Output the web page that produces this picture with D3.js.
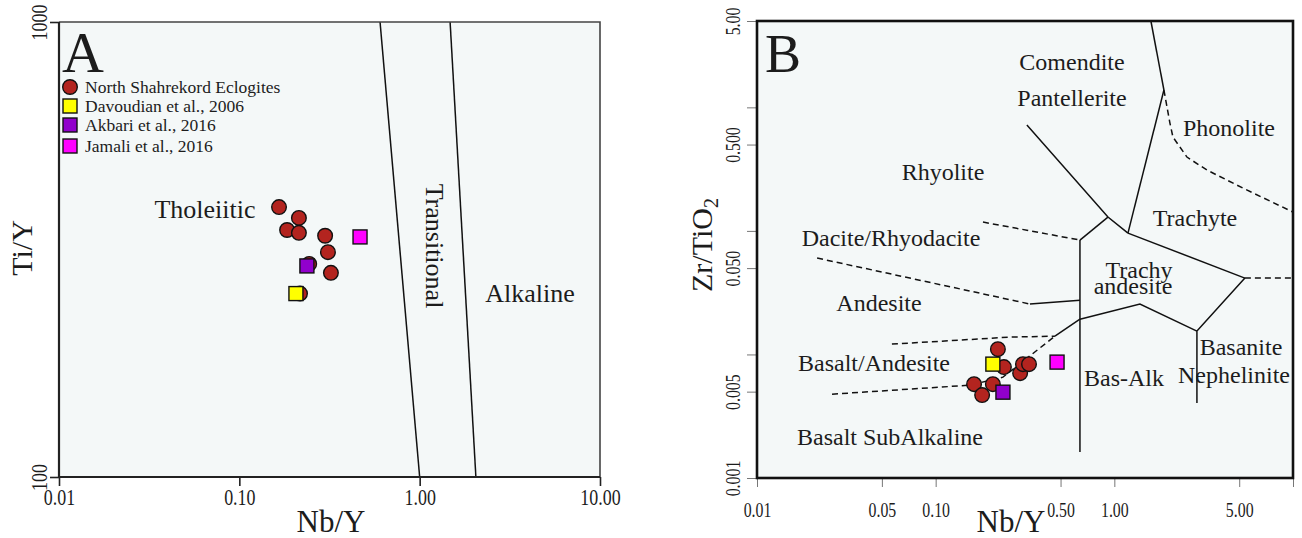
<!DOCTYPE html>
<html>
<head>
<meta charset="utf-8">
<script src="https://cdn.jsdelivr.net/npm/d3@7"></script>
<style>
body { margin: 0; background: #fff; }
text { font-family: 'Liberation Serif', 'Times New Roman', serif; fill: #1c1c1c; }
</style>
</head>
<body>
<div id="chart"></div>
<script>
// ---- panel A data : Nb/Y vs Ti/Y ----
var aCircleNbY = [0.166, 0.214, 0.184, 0.214, 0.299, 0.310, 0.244, 0.322, 0.217];
var aCircleTiY = [392, 371, 349, 344, 339, 312, 294, 281, 253];
var aSquareNbY = [0.206, 0.237, 0.467];
var aSquareTiY = [253, 291, 337];
var aBoundaryLines = [
    [[0.603, 1000], [1.00, 100]],
    [[1.475, 1000], [2.05, 100]]
];
var aXTicks = [0.01, 0.1, 1, 10];
var aXTickLabels = ['0.01', '0.10', '1.00', '10.00'];
var aYTicks = [100, 1000];
var aYTickLabels = ['100', '1000'];

// ---- panel B data : Nb/Y vs Zr/TiO2 ----
var bCircleNbY = [0.223, 0.241, 0.297, 0.308, 0.333, 0.164, 0.182, 0.209];
var bCircleZrTi = [0.01104, 0.00790, 0.00706, 0.00835, 0.00835, 0.00575, 0.00469, 0.00575];
var bSquareNbY = [0.209, 0.238, 0.478];
var bSquareZrTi = [0.00835, 0.00495, 0.00867];
var bSolidLines = [
    [[1.602, 5.0], [1.895, 1.381]],
    [[1.895, 1.381], [1.192, 0.0960]],
    [[0.324, 0.719], [0.921, 0.1294], [1.192, 0.0960]],
    [[0.921, 0.1294], [0.642, 0.0843]],
    [[0.642, 0.0843], [0.642, 0.00162]],
    [[1.192, 0.0960], [5.38, 0.0415]],
    [[5.38, 0.0415], [2.899, 0.01545], [2.899, 0.00404]],
    [[0.337, 0.0256], [0.642, 0.0275]],
    [[0.642, 0.0193], [1.391, 0.0256], [2.899, 0.01545]],
    [[0.642, 0.0193], [0.465, 0.01407]]
];
var bDashedLines = [
    [[1.895, 1.381], [2.047, 0.746], [2.128, 0.575], [2.549, 0.396], [3.298, 0.311], [5.245, 0.222], [10, 0.142]],
    [[5.38, 0.0415], [10, 0.0415]],
    [[0.184, 0.1179], [0.642, 0.0843]],
    [[0.0217, 0.0603], [0.337, 0.0256]],
    [[0.0569, 0.01213], [0.260, 0.01381], [0.465, 0.01407]],
    [[0.0263, 0.00477], [0.1555, 0.00564], [0.238, 0.00655], [0.465, 0.01407]]
];
var bXTicks = [0.01, 0.05, 0.1, 0.5, 1, 5, 10];
var bXTickLabels = ['0.01', '0.05', '0.10', '0.50', '1.00', '5.00', ''];
var bYTicks = [0.001, 0.005, 0.01, 0.05, 0.1, 0.5, 1, 5];
var bYTickLabels = ['0.001', '0.005', '', '0.050', '', '0.500', '', '5.00'];

// legend
var legendLabels = ['North Shahrekord Eclogites', 'Davoudian et al., 2006', 'Akbari et al., 2016', 'Jamali et al., 2016'];
var circleColor = '#b3241f';
var squareColors = ['#ffff00', '#9100cc', '#ff00ff'];

var svg = d3.select('#chart')
    .append('svg')
    .attr('width', 1302)
    .attr('height', 538);

// scales
var xA = d3.scaleLog().domain([0.01, 10]).range([59, 600]);
var yA = d3.scaleLog().domain([100, 1000]).range([477, 22]);
var xB = d3.scaleLog().domain([0.01, 10]).range([757, 1293]);
var yB = d3.scaleLog().domain([0.001, 5]).range([478, 21]);

var plotFill = '#f4f8f8';

// plot backgrounds
svg.append('rect').attr('x', 59).attr('y', 22).attr('width', 541).attr('height', 455).attr('fill', plotFill);
svg.append('rect').attr('x', 757).attr('y', 21).attr('width', 536).attr('height', 457).attr('fill', plotFill);

// helper to style axes
function styleBottomAxis(g, labels, ty, sx, fs) {
    g.select('.domain').remove();
    g.selectAll('.tick line').attr('stroke', '#222').attr('stroke-width', 1.6);
    g.selectAll('.tick text')
        .text(function(d, i) { return labels[i]; })
        .attr('y', ty)
        .attr('dy', '0')
        .attr('transform', 'scale(' + sx + ',1)')
        .style('font-size', fs + 'px')
        .style('font-family', "'Liberation Serif', serif")
        .attr('fill', '#222');
}
function styleLeftAxis(g, labels, tx, sx, fs) {
    g.select('.domain').remove();
    g.selectAll('.tick line').attr('stroke', '#222').attr('stroke-width', 1.6);
    g.selectAll('.tick text')
        .text(function(d, i) { return labels[i]; })
        .attr('x', 0)
        .attr('y', 0)
        .attr('dy', '0')
        .attr('text-anchor', 'middle')
        .attr('transform', 'translate(' + tx + ',0) rotate(-90) scale(' + sx + ',1)')
        .style('font-size', fs + 'px')
        .style('font-family', "'Liberation Serif', serif")
        .attr('fill', '#222');
}

// ---------- panel A ----------
var axA = svg.append('g').attr('transform', 'translate(0,477)')
    .call(d3.axisBottom(xA).tickValues(aXTicks).tickSize(9).tickSizeOuter(0));
styleBottomAxis(axA, aXTickLabels, 28, 0.78, 23);
var ayA = svg.append('g').attr('transform', 'translate(59,0)')
    .call(d3.axisLeft(yA).tickValues(aYTicks).tickSize(9).tickSizeOuter(0));
styleLeftAxis(ayA, aYTickLabels, -12, 0.78, 23);

var lineA = d3.line().x(function(d) { return xA(d[0]); }).y(function(d) { return yA(d[1]); });
svg.append('g').selectAll('path')
    .data(aBoundaryLines)
    .enter()
    .append('path')
    .attr('d', lineA)
    .attr('fill', 'none')
    .attr('stroke', '#111')
    .attr('stroke-width', 1.5);

// frame A
svg.append('path').attr('d', 'M59,22H600V477').attr('fill', 'none').attr('stroke', '#444').attr('stroke-width', 1.6);
svg.append('path').attr('d', 'M59,22V477H600').attr('fill', 'none').attr('stroke', '#222').attr('stroke-width', 2.2);

// points A
svg.append('g').selectAll('circle')
    .data(aCircleNbY)
    .enter()
    .append('circle')
    .attr('cx', function(d) { return xA(d); })
    .attr('cy', function(d, i) { return yA(aCircleTiY[i]); })
    .attr('r', 7.3)
    .attr('fill', circleColor)
    .attr('stroke', '#111')
    .attr('stroke-width', 1.4);
svg.append('g').selectAll('rect')
    .data(aSquareNbY)
    .enter()
    .append('rect')
    .attr('x', function(d) { return xA(d) - 7; })
    .attr('y', function(d, i) { return yA(aSquareTiY[i]) - 7; })
    .attr('width', 14)
    .attr('height', 14)
    .attr('fill', function(d, i) { return squareColors[i]; })
    .attr('stroke', '#111')
    .attr('stroke-width', 1.4);

// labels A
svg.append('text').attr('x', 62).attr('y', 72).style('font-size', '58px').text('A');
svg.append('text').attr('x', 205).attr('y', 218).attr('text-anchor', 'middle').style('font-size', '26px').text('Tholeiitic');
svg.append('text').attr('transform', 'translate(426,246) rotate(90)').attr('text-anchor', 'middle').style('font-size', '26px').text('Transitional');
svg.append('text').attr('x', 530).attr('y', 302).attr('text-anchor', 'middle').style('font-size', '26px').text('Alkaline');
svg.append('text').attr('transform', 'translate(32,248) rotate(-90)').attr('text-anchor', 'middle').style('font-size', '30px').text('Ti/Y');
svg.append('text').attr('x', 331).attr('y', 532).attr('text-anchor', 'middle').style('font-size', '31px').text('Nb/Y');

// legend
var legend = svg.append('g');
var legendY = [87, 106, 125, 146];
legendLabels.forEach(function(lab, i) {
    if (i === 0) {
        legend.append('circle').attr('cx', 70).attr('cy', legendY[i]).attr('r', 7.3)
            .attr('fill', circleColor).attr('stroke', '#111').attr('stroke-width', 1.4);
    } else {
        legend.append('rect').attr('x', 63).attr('y', legendY[i] - 7).attr('width', 14).attr('height', 14)
            .attr('fill', squareColors[i - 1]).attr('stroke', '#111').attr('stroke-width', 1.4);
    }
    legend.append('text').attr('x', 85).attr('y', legendY[i] + 6).style('font-size', '17.5px').text(lab);
});

// ---------- panel B ----------
var axB = svg.append('g').attr('transform', 'translate(0,478)')
    .call(d3.axisBottom(xB).tickValues(bXTicks).tickSize(9).tickSizeOuter(0));
styleBottomAxis(axB, bXTickLabels, 39, 0.72, 22);
axB.selectAll('.tick line').attr('stroke', '#777').attr('stroke-width', 1);
var ayB = svg.append('g').attr('transform', 'translate(757,0)')
    .call(d3.axisLeft(yB).tickValues(bYTicks).tickSize(10).tickSizeOuter(0));
styleLeftAxis(ayB, bYTickLabels, -17, 0.72, 22);
ayB.selectAll('.tick line').attr('stroke', '#777').attr('stroke-width', 1);

var lineB = d3.line().x(function(d) { return xB(d[0]); }).y(function(d) { return yB(d[1]); });
svg.append('g').selectAll('path')
    .data(bSolidLines)
    .enter()
    .append('path')
    .attr('d', lineB)
    .attr('fill', 'none')
    .attr('stroke', '#111')
    .attr('stroke-width', 1.5);
svg.append('g').selectAll('path')
    .data(bDashedLines)
    .enter()
    .append('path')
    .attr('d', lineB)
    .attr('fill', 'none')
    .attr('stroke', '#111')
    .attr('stroke-width', 1.5)
    .attr('stroke-dasharray', '6,4');

// frame B
svg.append('rect').attr('x', 757).attr('y', 21).attr('width', 536).attr('height', 457)
    .attr('fill', 'none').attr('stroke', '#111').attr('stroke-width', 2.6);

// field labels B
var fieldLabels = [
    ['Comendite', 1072, 70], ['Pantellerite', 1072, 106], ['Phonolite', 1229, 136],
    ['Trachyte', 1195, 226], ['Rhyolite', 943, 180], ['Dacite/Rhyodacite', 891, 246],
    ['Andesite', 879, 311], ['Basalt/Andesite', 874, 371], ['Basalt SubAlkaline', 890, 445],
    ['Trachy', 1139, 278], ['andesite', 1133, 294], ['Bas-Alk', 1124, 386],
    ['Basanite', 1241, 355], ['Nephelinite', 1234, 383]
];
svg.append('g').selectAll('text')
    .data(fieldLabels)
    .enter()
    .append('text')
    .attr('x', function(d) { return d[1]; })
    .attr('y', function(d) { return d[2]; })
    .attr('text-anchor', 'middle')
    .style('font-size', '24px')
    .text(function(d) { return d[0]; });

// points B
svg.append('g').selectAll('circle')
    .data(bCircleNbY)
    .enter()
    .append('circle')
    .attr('cx', function(d) { return xB(d); })
    .attr('cy', function(d, i) { return yB(bCircleZrTi[i]); })
    .attr('r', 7.3)
    .attr('fill', circleColor)
    .attr('stroke', '#111')
    .attr('stroke-width', 1.4);
svg.append('g').selectAll('rect')
    .data(bSquareNbY)
    .enter()
    .append('rect')
    .attr('x', function(d) { return xB(d) - 7; })
    .attr('y', function(d, i) { return yB(bSquareZrTi[i]) - 7; })
    .attr('width', 14)
    .attr('height', 14)
    .attr('fill', function(d, i) { return squareColors[i]; })
    .attr('stroke', '#111')
    .attr('stroke-width', 1.4);

svg.append('text').attr('x', 765).attr('y', 72).style('font-size', '54px').text('B');
var zt = svg.append('text').attr('transform', 'translate(712,245) rotate(-90)').attr('text-anchor', 'middle').style('font-size', '30px');
zt.append('tspan').text('Zr/TiO');
zt.append('tspan').attr('dy', '6').style('font-size', '20px').text('2');
svg.append('text').attr('x', 1011).attr('y', 532).attr('text-anchor', 'middle').style('font-size', '31px').text('Nb/Y');
</script>
</body>
</html>
